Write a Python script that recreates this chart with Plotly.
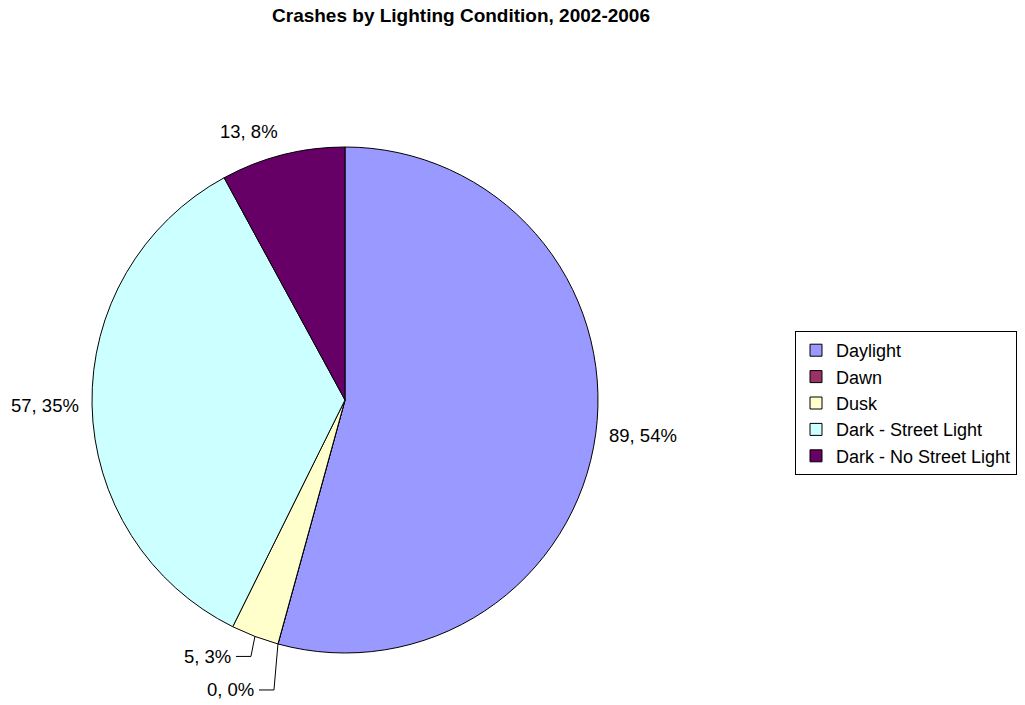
import math
import plotly.graph_objects as go

# Crash counts by lighting condition, 2002-2006
categories = ["Daylight", "Dawn", "Dusk", "Dark - Street Light", "Dark - No Street Light"]
crashes = [89, 0, 5, 57, 13]
colors = ["#9999FF", "#993366", "#FFFFCC", "#CCFFFF", "#660066"]

# Page geometry (pixels) and pie placement
W, H = 1025, 705
CX, CY, R = 345, 400, 253
FONT = "Arial, Liberation Sans, sans-serif"
LABEL_SIZE = 18.5


def px(x):
    return x / W


def py(y):
    return 1 - y / H


total = sum(crashes)
texts = [f"{v}, {round(100 * v / total)}%" for v in crashes]

fig = go.Figure(
    go.Pie(
        labels=categories,
        values=crashes,
        sort=False,
        direction="clockwise",
        rotation=0,
        textinfo="none",
        hoverinfo="label+value+percent",
        marker=dict(colors=colors, line=dict(color="black", width=1)),
        domain=dict(x=[px(CX - R), px(CX + R)], y=[py(CY + R), py(CY - R)]),
    )
)

# Data labels: placed just outside the slice mid-angle; thin slices get leader lines
leader_offsets = {"Dawn": (-22, 46), "Dusk": (-22, 20)}
annotations = []
shapes = []
cum = 0
for cat, v, t in zip(categories, crashes, texts):
    mid = (cum + v / 2) / total * 2 * math.pi
    cum += v
    dx, dy = math.sin(mid), -math.cos(mid)
    ex, ey = CX + R * dx, CY + R * dy
    if cat in leader_offsets:
        ox, oy = leader_offsets[cat]
        lx, ly = ex + ox, ey + oy
        elbow = lx + 18
        annotations.append(dict(x=px(lx), y=py(ly), xref="paper", yref="paper", text=t,
                                showarrow=False, xanchor="right", yanchor="middle",
                                font=dict(family=FONT, size=LABEL_SIZE, color="black")))
        line = dict(color="black", width=1)
        shapes.append(dict(type="line", xref="paper", yref="paper",
                           x0=px(lx + 3), y0=py(ly), x1=px(elbow), y1=py(ly), line=line))
        shapes.append(dict(type="line", xref="paper", yref="paper",
                           x0=px(elbow), y0=py(ly), x1=px(ex), y1=py(ey), line=line))
        continue
    gap = 11
    ax, ay = CX + (R + gap) * dx, CY + (R + gap) * dy
    xa = "left" if dx > 0.2 else ("right" if dx < -0.2 else "center")
    ya = "top" if dy > 0.2 else ("bottom" if dy < -0.2 else "middle")
    annotations.append(dict(x=px(ax), y=py(ay), xref="paper", yref="paper", text=t,
                            showarrow=False, xanchor=xa, yanchor=ya,
                            font=dict(family=FONT, size=LABEL_SIZE, color="black")))

fig.update_layout(
    width=W,
    height=H,
    margin=dict(l=0, r=0, t=0, b=0),
    paper_bgcolor="white",
    plot_bgcolor="white",
    title=dict(text="<b>Crashes by Lighting Condition, 2002-2006</b>",
               x=px(461), y=py(15), xanchor="center", yanchor="middle",
               font=dict(family=FONT, size=19, color="black")),
    legend=dict(x=px(795), y=py(331), xanchor="left", yanchor="top",
                bordercolor="black", borderwidth=1, bgcolor="white",
                font=dict(family=FONT, size=18, color="black"),
                traceorder="normal"),
    annotations=annotations,
    shapes=shapes,
)

fig.write_html("out.html")
